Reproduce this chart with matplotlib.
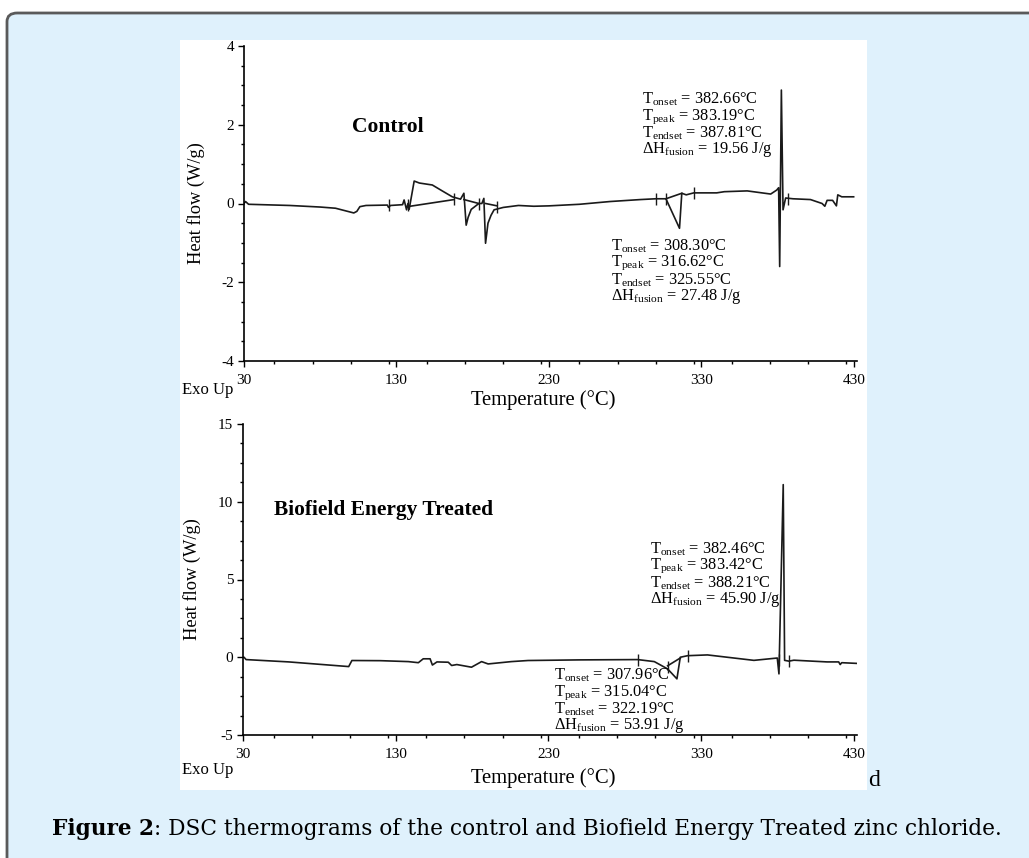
import matplotlib
matplotlib.use('Agg')
import matplotlib.pyplot as plt
from matplotlib.patches import FancyBboxPatch, Rectangle
from matplotlib.ticker import MultipleLocator

plt.rcParams['font.family'] = 'Liberation Serif'
plt.rcParams['mathtext.fontset'] = 'custom'
plt.rcParams['mathtext.rm'] = 'Liberation Serif'
plt.rcParams['axes.unicode_minus'] = False

# Control thermogram (temperature in C, heat flow in W/g)
ctrl_T = [30, 31, 33, 60, 80, 90, 98, 102, 104, 106, 110, 124, 124.8, 126, 134,
          135, 136.6, 137.5, 138.3, 141.6, 145, 153.5, 160, 166.6, 172, 174.2,
          175.7, 177, 179, 184, 186, 187.3, 188.4, 190, 192, 194, 200, 210, 220,
          230, 250, 270, 290, 300, 306.7, 315.6, 317.1, 320, 325, 340, 345, 360,
          375.4, 379.3, 380.6, 381.3, 382.4, 383.5, 385.2, 390, 401.5, 409.1,
          410.9, 412.4, 416, 418.5, 419.4, 422, 425, 429.8]
ctrl_Q = [0.0, 0.05, -0.02, -0.05, -0.09, -0.12, -0.2, -0.24, -0.2, -0.08, -0.05,
          -0.04, -0.1, -0.05, -0.03, 0.09, -0.16, 0.0, -0.15, 0.57, 0.52, 0.47,
          0.32, 0.17, 0.11, 0.26, -0.55, -0.35, -0.15, 0.0, 0.0, 0.13, -1.01, -0.5,
          -0.3, -0.16, -0.1, -0.05, -0.07, -0.06, -0.02, 0.05, 0.1, 0.12, 0.12,
          -0.63, 0.26, 0.22, 0.27, 0.27, 0.3, 0.32, 0.24, 0.34, 0.4, -1.6, 2.88,
          -0.16, 0.14, 0.12, 0.1, 0.0, -0.07, 0.08, 0.08, -0.06, 0.22, 0.17, 0.17,
          0.17]
# integration baselines of the control run
ctrl_base = [((137.2, 167.8), (-0.08, 0.1)),
             ((174.2, 184), (0.1, 0.0)),
             ((188.4, 196), (0.0, -0.06)),
             ((306.7, 317.1), (0.12, 0.26))]
ctrl_marks_T = [124.8, 137.5, 167.8, 184, 196, 300, 306.7, 325, 386.7]
ctrl_marks_Q = [-0.05, -0.05, 0.12, 0.0, -0.1, 0.12, 0.12, 0.27, 0.12]

# Biofield Energy Treated thermogram
trt_T = [30, 30.7, 32, 60, 99.2, 101.3, 120, 138.3, 144.8, 148, 152.5, 154, 157,
         164.4, 166.6, 170, 179.6, 186.2, 190.5, 205.7, 216.6, 250, 288.4, 299.3,
         308, 314.1, 316.3, 321.1, 334.1, 347.1, 364.5, 379.8, 380.9, 383.7,
         384.6, 387.4, 390.7, 412.4, 420, 421, 422, 433]
trt_Q = [0.0, 0.0, -0.15, -0.3, -0.6, -0.21, -0.22, -0.28, -0.35, -0.1, -0.1,
         -0.5, -0.3, -0.32, -0.53, -0.47, -0.64, -0.28, -0.43, -0.28, -0.21,
         -0.17, -0.15, -0.28, -0.75, -1.39, 0.0, 0.1, 0.15, 0.0, -0.2, -0.05,
         -1.07, 11.1, -0.2, -0.25, -0.19, -0.3, -0.3, -0.47, -0.35, -0.4]
trt_base = [((308, 316.3), (-0.55, -0.05))]
trt_marks_T = [288.4, 308, 321.1, 380.9, 387.4]
trt_marks_Q = [-0.15, -0.6, 0.1, -0.2, -0.25]

x_ticks = [30, 130, 230, 330, 430]

ctrl_txt_hi = ['T$_{\\mathrm{onset}}$ = 382.66°C', 'T$_{\\mathrm{peak}}$ = 383.19°C',
               'T$_{\\mathrm{endset}}$ = 387.81°C', '$\\Delta$H$_{\\mathrm{fusion}}$ = 19.56 J/g']
ctrl_txt_lo = ['T$_{\\mathrm{onset}}$ = 308.30°C', 'T$_{\\mathrm{peak}}$ = 316.62°C',
               'T$_{\\mathrm{endset}}$ = 325.55°C', '$\\Delta$H$_{\\mathrm{fusion}}$ = 27.48 J/g']
trt_txt_hi = ['T$_{\\mathrm{onset}}$ = 382.46°C', 'T$_{\\mathrm{peak}}$ = 383.42°C',
              'T$_{\\mathrm{endset}}$ = 388.21°C', '$\\Delta$H$_{\\mathrm{fusion}}$ = 45.90 J/g']
trt_txt_lo = ['T$_{\\mathrm{onset}}$ = 307.96°C', 'T$_{\\mathrm{peak}}$ = 315.04°C',
              'T$_{\\mathrm{endset}}$ = 322.19°C', '$\\Delta$H$_{\\mathrm{fusion}}$ = 53.91 J/g']

W, H = 1029, 858
fig = plt.figure(figsize=(W / 100, H / 100), dpi=100)
fig.patch.set_facecolor('white')


def px(x, y, w, h):
    # pixel box (top-left origin) -> figure fraction rect
    return [x / W, (H - y - h) / H, w / W, h / H]


# light blue panel with grey border, and white picture area (behind the axes)
r = px(7, 13, 1060, 900)
fig.patches.append(FancyBboxPatch((r[0], r[1]), r[2], r[3], boxstyle='round,pad=0,rounding_size=0.01',
                                  transform=fig.transFigure, facecolor='#dff1fc',
                                  edgecolor='#5a5a5a', linewidth=2, zorder=-2))
r = px(180, 40, 687, 750)
fig.patches.append(Rectangle((r[0], r[1]), r[2], r[3], transform=fig.transFigure,
                             facecolor='white', edgecolor='none', zorder=-1))

line_kw = dict(color='#1a1a1a', linewidth=1.2)
ann_size = 11.8


def style(ax, ylim, ymaj, ymin):
    ax.set_facecolor('none')
    ax.set_xlim(30, 432)
    ax.set_ylim(*ylim)
    ax.spines['top'].set_visible(False)
    ax.spines['right'].set_visible(False)
    ax.spines['left'].set_linewidth(1.2)
    ax.spines['bottom'].set_linewidth(1.2)
    ax.set_xticks(x_ticks)
    ax.xaxis.set_minor_locator(MultipleLocator(25))
    ax.yaxis.set_major_locator(MultipleLocator(ymaj))
    ax.yaxis.set_minor_locator(MultipleLocator(ymin))
    ax.tick_params(which='major', length=4, width=1, labelsize=11, pad=3)
    ax.tick_params(which='minor', length=2, width=1)
    ax.tick_params(axis='x', pad=5)
    ax.set_ylabel('Heat flow (W/g)', fontsize=13.2, labelpad=12)


# ---- Control ----
ax1 = fig.add_axes(px(244, 46, 613, 315))
style(ax1, (-4, 4), 2, 0.5)
ax1.plot(ctrl_T, ctrl_Q, **line_kw)
for (bx, by) in ctrl_base:
    ax1.plot(bx, by, **line_kw)
ax1.plot(ctrl_marks_T, ctrl_marks_Q, ls='none', marker='|', ms=8, mew=1, color='#1a1a1a')
ax1.text(100.5, 1.94, 'Control', fontsize=15.5, fontweight='bold', va='center')
for i, s in enumerate(ctrl_txt_hi):
    ax1.text(291, 2.65 - i * 0.43, s, fontsize=ann_size, va='center')
for i, s in enumerate(ctrl_txt_lo):
    ax1.text(270.8, -1.08 - i * 0.43, s, fontsize=ann_size, va='center')

# ---- Biofield Energy Treated ----
ax2 = fig.add_axes(px(243, 424, 614, 311))
style(ax2, (-5, 15), 5, 1.25)
ax2.plot(trt_T, trt_Q, **line_kw)
for (bx, by) in trt_base:
    ax2.plot(bx, by, **line_kw)
ax2.plot(trt_marks_T, trt_marks_Q, ls='none', marker='|', ms=8, mew=1, color='#1a1a1a')
ax2.text(50.2, 9.45, 'Biofield Energy Treated', fontsize=15.4, fontweight='bold', va='center')
for i, s in enumerate(trt_txt_hi):
    ax2.text(296.4, 6.95 - i * 1.08, s, fontsize=ann_size, va='center')
for i, s in enumerate(trt_txt_lo):
    ax2.text(233.9, -1.16 - i * 1.08, s, fontsize=ann_size, va='center')

# axis labels drawn at their picture positions
for ylab, yexo in ((400, 390), (778, 770)):
    fig.text(543 / W, (H - ylab) / H, 'Temperature (°C)', fontsize=14.9, ha='center', va='center')
    fig.text(182 / W, (H - yexo) / H, 'Exo Up', fontsize=12, ha='left', va='center')
fig.text(874 / W, (H - 780) / H, 'd', fontsize=17, ha='center', va='center')

# caption: bold part, then the rest placed right after it
t1 = fig.text(52 / W, (H - 835) / H, 'Figure 2', fontsize=15.6, fontweight='bold',
              family='DejaVu Serif', ha='left', va='baseline')
t2 = plt.Annotation(': DSC thermograms of the control and Biofield Energy Treated zinc chloride.',
                    xy=(1, 0), xycoords=t1, fontsize=15.6, family='DejaVu Serif',
                    ha='left', va='bottom', annotation_clip=False)
fig.add_artist(t2)

fig.savefig('out.png', dpi=100)
